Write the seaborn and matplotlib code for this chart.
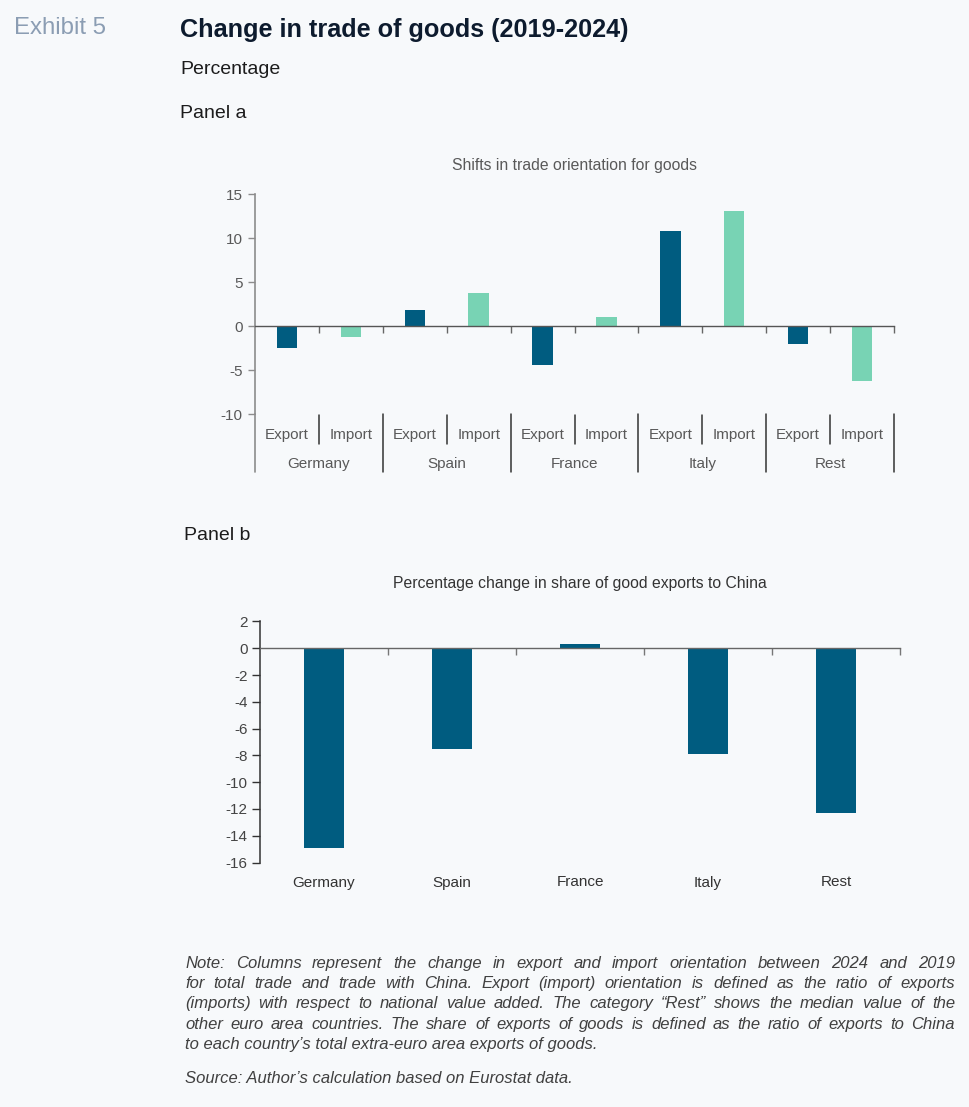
import numpy as np
import pandas as pd
import matplotlib
matplotlib.use("Agg")
import matplotlib.pyplot as plt
import matplotlib.transforms as mtransforms
import seaborn as sns

# ---------------- data ----------------
countries = ["Germany", "Spain", "France", "Italy", "Rest"]
flows = ["Export", "Import"]
export_orientation = [-2.5, 1.8, -4.4, 10.8, -2.0]
import_orientation = [-1.2, 3.8, 1.0, 13.1, -6.2]
china_share_change = [-14.9, -7.5, 0.3, -7.9, -12.3]

panel_a_yticks = [15, 10, 5, 0, -5, -10]
panel_b_yticks = [2, 0, -2, -4, -6, -8, -10, -12, -14, -16]

# ---------------- style ----------------
sns.set_theme(style="white")
plt.rcParams["font.family"] = ["Liberation Sans", "DejaVu Sans"]

BG = "#f7f9fb"
DARK = "#005c80"
MINT = "#78d3b4"
AXC = "#8c8c8c"
TXT = "#595959"

W, H = 969, 1107
fig = plt.figure(figsize=(W / 100, H / 100), dpi=100, facecolor=BG)


def fx(px):
    return px / W


def fy(py):
    return 1 - py / H


# ---------------- header ----------------
fig.text(fx(14), fy(28), "Exhibit 5", fontsize=17.3, color="#8b9db3", va="center", ha="left")
fig.text(fx(180), fy(30), "Change in trade of goods (2019-2024)", fontsize=18.2,
         fontweight="bold", color="#0d1b2e", va="center", ha="left")
fig.text(fx(180), fy(70), "Percentage", fontsize=14, color="#1c1c1c", va="center", ha="left")
fig.text(fx(180), fy(114), "Panel a", fontsize=14, color="#1c1c1c", va="center", ha="left")
fig.text(fx(184), fy(535), "Panel b", fontsize=14, color="#1c1c1c", va="center", ha="left")

# ---------------- panel a ----------------
a_l, a_r, a_t, a_b = 255, 894, 194, 414
ax1 = fig.add_axes([fx(a_l), fy(a_b), fx(a_r - a_l), (a_b - a_t) / H])
ax1.set_facecolor(BG)

df_a = pd.DataFrame({
    "country": countries * 2,
    "flow": [flows[0]] * len(countries) + [flows[1]] * len(countries),
    "value": export_orientation + import_orientation,
})
sns.barplot(data=df_a, x="country", y="value", hue="flow", order=countries,
            hue_order=flows, palette=[DARK, MINT], width=1.0, gap=0.68,
            saturation=1, legend=False, ax=ax1, edgecolor="none")

n = len(countries)
ax1.set_xticks(np.arange(0, n - 0.49, 0.5))
ax1.set_xticklabels([])
ax1.set_xlim(-0.5, n - 0.5)
ax1.set_ylim(-10, 15)
ax1.set_yticks(panel_a_yticks)
ax1.set_yticklabels([str(t) for t in panel_a_yticks])
for s in ["top", "right"]:
    ax1.spines[s].set_visible(False)
ax1.spines["left"].set_color(AXC)
ax1.spines["left"].set_linewidth(1.2)
ax1.spines["bottom"].set_position(("data", 0))
ax1.spines["bottom"].set_color("#555555")
ax1.spines["bottom"].set_linewidth(1.0)
ax1.tick_params(axis="x", direction="out", length=5, width=1, color="#666666", bottom=True)
ax1.tick_params(axis="y", direction="out", length=5, width=1, color=AXC, left=True,
                labelsize=11, labelcolor=TXT, pad=4)
ax1.set_xlabel("")
ax1.set_ylabel("")
ax1.set_title("Shifts in trade orientation for goods", fontsize=11.3, color=TXT, pad=17)

# category labels + separators below panel a
blend1 = mtransforms.blended_transform_factory(ax1.transData, ax1.transAxes)
ah = a_b - a_t
for i, c in enumerate(countries):
    ax1.annotate(c, xy=(i, 0), xycoords=blend1, xytext=(0, -54), textcoords="offset pixels",
                 ha="center", va="baseline", fontsize=11, color=TXT, annotation_clip=False)
    for j, f in enumerate(flows):
        ax1.annotate(f, xy=(i - 0.25 + 0.5 * j, 0), xycoords=blend1, xytext=(0, -25),
                     textcoords="offset pixels", ha="center", va="baseline", fontsize=11,
                     color=TXT, annotation_clip=False)
    # short separator between Export and Import
    ax1.plot([i, i], [-1 / ah, -30 / ah], transform=blend1, color="#333333", lw=1.1,
             clip_on=False)
# group separators (including extension of the left spine)
for b in np.arange(-0.5, n, 1.0):
    first = b < 0
    ax1.plot([b, b], [0, -58 / ah], transform=blend1,
             color=AXC if first else "#333333", lw=1.2 if first else 1.1, clip_on=False)

# ---------------- panel b ----------------
b_l, b_r, b_t, b_b = 260, 900, 621.5, 862.5
ax2 = fig.add_axes([fx(b_l), fy(b_b), fx(b_r - b_l), (b_b - b_t) / H])
ax2.set_facecolor(BG)
df_b = pd.DataFrame({"country": countries, "value": china_share_change})
sns.barplot(data=df_b, x="country", y="value", order=countries, color=DARK,
            saturation=1, width=0.31, ax=ax2, edgecolor="none")
ax2.set_xticks(np.arange(0.5, n, 1.0))
ax2.set_xticklabels([])
ax2.set_xlim(-0.5, n - 0.5)
ax2.set_ylim(-16, 2)
ax2.set_yticks(panel_b_yticks)
ax2.set_yticklabels([str(t) for t in panel_b_yticks])
for s in ["top", "right"]:
    ax2.spines[s].set_visible(False)
ax2.spines["left"].set_color("#333333")
ax2.spines["left"].set_linewidth(1.1)
ax2.spines["bottom"].set_position(("data", 0))
ax2.spines["bottom"].set_color("#666666")
ax2.spines["bottom"].set_linewidth(1.0)
ax2.tick_params(axis="x", direction="out", length=5, width=1, color="#777777", bottom=True)
ax2.tick_params(axis="y", direction="out", length=6, width=1, color="#333333", left=True,
                labelsize=11, labelcolor="#444444", pad=3)
ax2.set_xlabel("")
ax2.set_ylabel("")
ax2.set_title("Percentage change in share of good exports to China", fontsize=11.3,
              color="#333333", pad=24)
blend2 = mtransforms.blended_transform_factory(ax2.transData, ax2.transAxes)
for i, c in enumerate(countries):
    ax2.annotate(c, xy=(i, 0), xycoords=blend2, xytext=(0, -24), textcoords="offset pixels",
                 ha="center", va="baseline", fontsize=11, color="#333333",
                 annotation_clip=False)

# ---------------- note (justified) ----------------
note_lines = [
    "Note: Columns represent the change in export and import orientation between 2024 and 2019",
    "for total trade and trade with China. Export (import) orientation is defined as the ratio of exports",
    "(imports) with respect to national value added. The category \u201cRest\u201d shows the median value of the",
    "other euro area countries. The share of exports of goods is defined as the ratio of exports to China",
    "to each country\u2019s total extra-euro area exports of goods.",
]
source_line = "Source: Author\u2019s calculation based on Eurostat data."
note_base = [968, 988, 1008, 1029, 1049]
x0, x1 = 185, 955
note_kw = dict(fontsize=12, style="italic", color="#404040", va="baseline", ha="left")

fig.canvas.draw()
renderer = fig.canvas.get_renderer()
for k, (line, yy) in enumerate(zip(note_lines, note_base)):
    if k == len(note_lines) - 1:
        fig.text(fx(x0), fy(yy), line, **note_kw)
        continue
    words = line.split(" ")
    widths = []
    for w in words:
        t = fig.text(0, 0, w, **note_kw)
        widths.append(t.get_window_extent(renderer).width)
        t.remove()
    gap = (x1 - x0 - sum(widths)) / (len(words) - 1)
    cx = x0
    for w, wd in zip(words, widths):
        fig.text(fx(cx), fy(yy), w, **note_kw)
        cx += wd + gap
fig.text(fx(x0), fy(1083), source_line, **note_kw)

fig.savefig("out.png", dpi=100, facecolor=BG)
